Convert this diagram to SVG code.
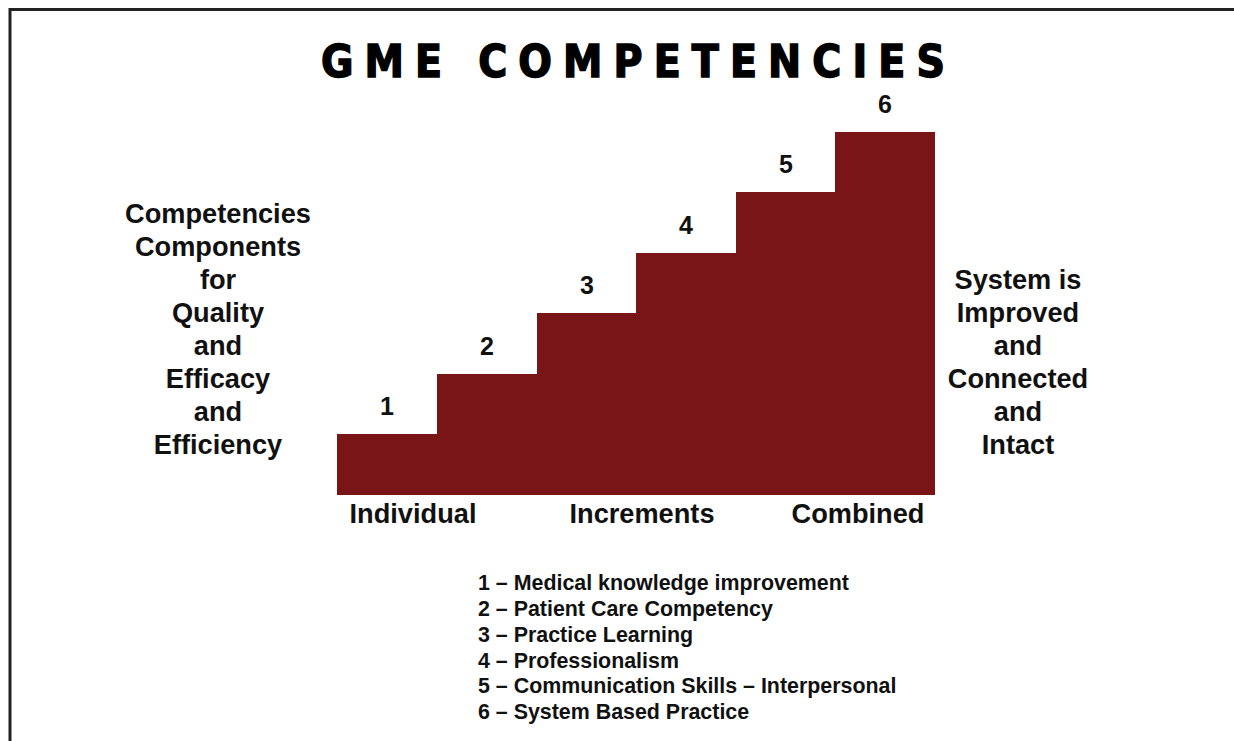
<svg xmlns="http://www.w3.org/2000/svg" width="1234" height="741" viewBox="0 0 1234 741">
<style>
.t{font-family:"Liberation Sans",Arial,sans-serif;font-weight:bold;fill:#111;text-anchor:middle}
.side{font-size:27.2px}
.num{font-size:25px}
.leg{font-family:"Liberation Sans",Arial,sans-serif;font-weight:bold;fill:#111;font-size:21.4px}
.title{font-family:"DejaVu Sans Condensed","DejaVu Sans",sans-serif;font-stretch:condensed;font-weight:bold;font-size:44px;fill:#000;stroke:#000;stroke-width:1.4px}
</style>
<rect width="1234" height="741" fill="#fff"/>
<g id="frame">
<path d="M10 741 V9.5 H1234" fill="none" stroke="#222" stroke-width="3"/>
</g>
<g id="title">
<text class="title" x="321" y="77" textLength="624" lengthAdjust="spacing">GME COMPETENCIES</text>
</g>
<g id="stairs">
<path d="M337 495 V434 H437 V374 H537 V313 H636 V253 H736 V192 H835 V132 H935 V495 Z" fill="#7a1517"/>
</g>
<g id="step-numbers">
<text class="t num" x="387" y="415">1</text>
<text class="t num" x="487" y="355">2</text>
<text class="t num" x="587" y="294">3</text>
<text class="t num" x="686" y="234">4</text>
<text class="t num" x="786" y="173">5</text>
<text class="t num" x="885" y="113">6</text>
</g>
<g id="left-label">
<text class="t side" x="218" y="223">Competencies</text>
<text class="t side" x="218" y="256">Components</text>
<text class="t side" x="218" y="289">for</text>
<text class="t side" x="218" y="322">Quality</text>
<text class="t side" x="218" y="355">and</text>
<text class="t side" x="218" y="388">Efficacy</text>
<text class="t side" x="218" y="421">and</text>
<text class="t side" x="218" y="454">Efficiency</text>
</g>
<g id="right-label">
<text class="t side" x="1018" y="289">System is</text>
<text class="t side" x="1018" y="322">Improved</text>
<text class="t side" x="1018" y="355">and</text>
<text class="t side" x="1018" y="388">Connected</text>
<text class="t side" x="1018" y="421">and</text>
<text class="t side" x="1018" y="454">Intact</text>
</g>
<g id="axis-labels">
<text class="t side" x="413" y="523">Individual</text>
<text class="t side" x="642" y="523">Increments</text>
<text class="t side" x="858" y="523">Combined</text>
</g>
<g id="legend">
<text class="leg" x="478" y="590">1 – Medical knowledge improvement</text>
<text class="leg" x="478" y="616">2 – Patient Care Competency</text>
<text class="leg" x="478" y="642">3 – Practice Learning</text>
<text class="leg" x="478" y="668">4 – Professionalism</text>
<text class="leg" x="478" y="693">5 – Communication Skills – Interpersonal</text>
<text class="leg" x="478" y="719">6 – System Based Practice</text>
</g>
<g id="connectors"></g>
</svg>
